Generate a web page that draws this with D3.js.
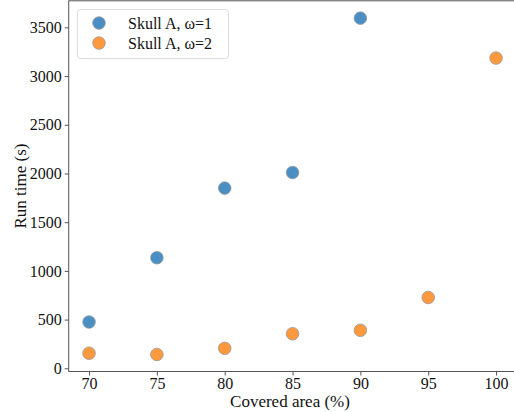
<!DOCTYPE html>
<html>
<head>
<meta charset="utf-8">
<script src="https://cdn.jsdelivr.net/npm/d3@7"></script>
<style>
  body { margin: 0; background: #fff; }
  svg text { font-family: "Liberation Serif", "DejaVu Serif", serif; fill: #111; }
</style>
</head>
<body>
<div id="wrapper"></div>
<script>
// values
const areaW1 = [70, 75, 80, 85, 90];
const timeW1 = [475, 1135, 1850, 2010, 3595];
const areaW2 = [70, 75, 80, 85, 90, 95, 100];
const timeW2 = [155, 142, 205, 355, 390, 727, 3185];
const xTicks = [70, 75, 80, 85, 90, 95, 100];
const yTicks = [0, 500, 1000, 1500, 2000, 2500, 3000, 3500];
const seriesNames = ["Skull A, \u03c9=1", "Skull A, \u03c9=2"];
const colors = ["#4a8fc4", "#ff993e"];

const W = 514, H = 412;
const svg = d3.select("#wrapper").append("svg").attr("width", W).attr("height", H);

const x = d3.scaleLinear().domain([68.5, 101.5]).range([68.7, 516.4]);
const y = d3.scaleLinear().domain([-33, 3773]).range([371.5, 0.8]);

// frame
svg.append("rect")
  .attr("x", x(68.5)).attr("y", y(3773))
  .attr("width", x(101.5) - x(68.5)).attr("height", y(-33) - y(3773))
  .attr("fill", "none").attr("stroke", "#555").attr("stroke-width", 1);

const xAxis = svg.append("g").attr("transform", "translate(0," + y(-33) + ")")
  .call(d3.axisBottom(x).tickValues(xTicks).tickSize(4).tickPadding(2).tickFormat(d3.format("d")));
const yAxis = svg.append("g").attr("transform", "translate(" + x(68.5) + ",0)")
  .call(d3.axisLeft(y).tickValues(yTicks).tickSize(4).tickPadding(3).tickFormat(d3.format("d")));
[xAxis, yAxis].forEach(g => {
  g.select(".domain").remove();
  g.selectAll("line").attr("stroke", "#555");
  g.selectAll("text").style("font-size", "16px").attr("fill", "#111");
});

svg.append("text").attr("x", 290).attr("y", 407).attr("text-anchor", "middle")
  .style("font-size", "17px").text("Covered area (%)");
svg.append("text").attr("transform", "translate(26,186) rotate(-90)").attr("text-anchor", "middle")
  .style("font-size", "17px").text("Run time (s)");

const series = [
  areaW1.map((a, i) => ({ a: a, t: timeW1[i] })),
  areaW2.map((a, i) => ({ a: a, t: timeW2[i] }))
];
series.forEach((s, k) => {
  svg.append("g").selectAll("circle").data(s).enter().append("circle")
    .attr("cx", d => x(d.a)).attr("cy", d => y(d.t)).attr("r", 6.3)
    .attr("fill", colors[k]).attr("stroke", "#999").attr("stroke-width", 0.8);
});

// legend
const lg = svg.append("g");
lg.append("rect").attr("x", 77.5).attr("y", 9.5).attr("width", 151).attr("height", 49).attr("rx", 3)
  .attr("fill", "#fff").attr("stroke", "#ddd");
seriesNames.forEach((n, k) => {
  lg.append("circle").attr("cx", 99).attr("cy", 23 + k * 20).attr("r", 6.3)
    .attr("fill", colors[k]).attr("stroke", "#999").attr("stroke-width", 0.8);
  lg.append("text").attr("x", 128).attr("y", 29 + k * 20).style("font-size", "16px").text(n);
});
</script>
</body>
</html>
